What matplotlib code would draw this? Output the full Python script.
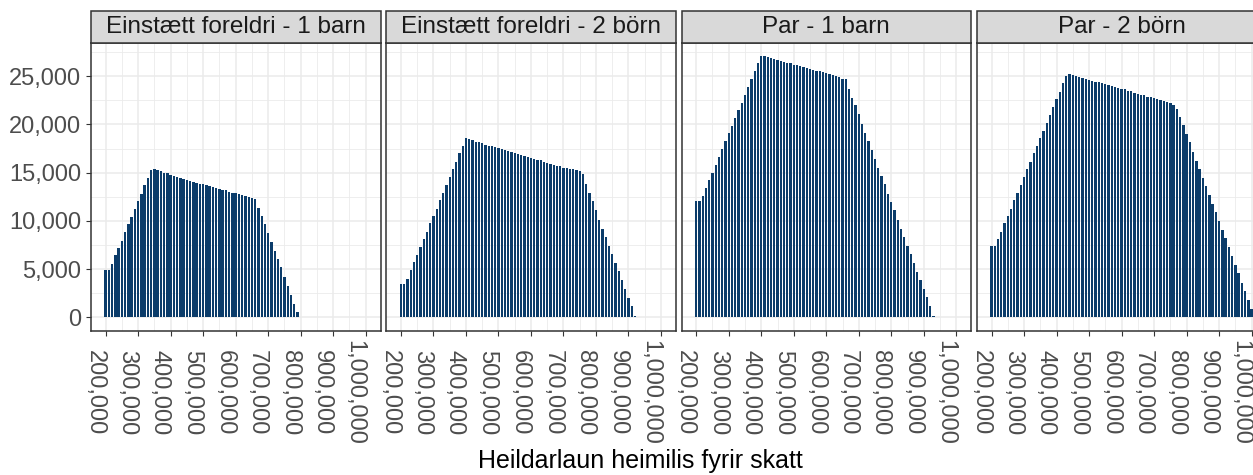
import numpy as np
import matplotlib
matplotlib.use("Agg")
import matplotlib.pyplot as plt
from matplotlib.patches import Rectangle
from matplotlib.ticker import FuncFormatter, MultipleLocator

plt.rcParams['font.family'] = ['Liberation Sans', 'DejaVu Sans']

panel_titles = ["Einstætt foreldri - 1 barn", "Einstætt foreldri - 2 börn",
                "Par - 1 barn", "Par - 2 börn"]

income_start = 200000
income_step = 10000

einstaett_1 = [4880, 4880, 5510, 6420, 7150, 7950, 8830, 9620, 10360, 11270, 12030, 12800, 13700, 14480, 15240,
               15340, 15240, 15140, 15000, 14930, 14790, 14650, 14580, 14470, 14370, 14230, 14160, 14060, 13950,
               13850, 13810, 13710, 13600, 13530, 13430, 13320, 13250, 13150, 13010, 12900, 12870, 12760, 12660,
               12560, 12490, 12380, 12280,
               11340, 10470, 9700, 8720, 7780, 6900, 6000, 5160, 4180, 3240, 2330, 1390, 520]

einstaett_2 = [3490, 3490, 3970, 4880, 5690, 6420, 7290, 8100, 8830, 9770, 10530, 11270, 12180, 12910, 13670,
               14540, 15350, 16080, 16990, 17780,
               18550, 18480, 18380, 18200, 18140, 18030, 17890, 17790, 17750, 17650, 17540, 17440, 17370, 17260,
               17120, 17020, 16980, 16840, 16740, 16630, 16500, 16390, 16320, 16290, 16150, 16040, 15900, 15800,
               15730, 15690, 15520, 15450, 15420, 15350, 15280, 15140, 14820,
               13780, 12900, 12030, 11090, 10120, 9170, 8300, 7400, 6560, 5650, 4780, 3840, 2900, 2030, 1120, 110]

par_1 = [12030, 12030, 12560, 13430, 14190, 15000, 15830, 16630, 17440, 18270, 19080, 19810, 20710, 21480,
         22250, 23090, 23890, 24690, 25530, 26330,
         27100, 27060, 26960, 26850, 26750, 26710, 26610, 26500, 26400, 26330, 26220, 26150, 26050, 25940,
         25880, 25770, 25670, 25560, 25530, 25420, 25320, 25210, 25110, 25040, 24930, 24760, 24690,
         23710, 22770, 21970, 21060, 20020, 19080, 18240, 17370, 16460, 15520, 14650, 13780, 12830, 11960,
         11090, 10120, 9170, 8300, 7430, 6520, 5650, 4710, 3840, 2970, 2100, 1150, 110]

par_2 = [7400, 7400, 8090, 8830, 9730, 10460, 11270, 12140, 12900, 13710, 14580, 15350, 16110, 17020, 17790,
         18550, 19350, 20190, 20990, 21800, 22600, 23360, 24310, 25040,
         25280, 25180, 25040, 24970, 24860, 24760, 24620, 24480, 24410, 24410, 24270, 24170, 24060, 23960,
         23890, 23780, 23710, 23640, 23500, 23430, 23290, 23190, 23090, 23020, 22880, 22810, 22740, 22600,
         22530, 22460, 22320, 22210, 22040,
         21620, 20820, 19950, 19010, 18140, 17160, 16220, 15350, 14470, 13600, 12730, 11750, 10880, 9940,
         9070, 8200, 7330, 6350, 5410, 4540, 3600, 2720, 1750, 880]

series = [einstaett_1, einstaett_2, par_1, par_2]

x_ticks = [200000, 300000, 400000, 500000, 600000, 700000, 800000, 900000, 1000000]
y_ticks = [0, 5000, 10000, 15000, 20000, 25000]

W, H = 1253, 475
fig = plt.figure(figsize=(W / 100, H / 100), dpi=100)

bar_color = "#0b3c6a"
grid_col = "#ebebeb"
border_col = "#333333"
fs_tick = 17
fs_strip = 17.5
fs_title = 18

panel_left0 = 91
panel_step = 295.3
panel_w = 289.5
panel_top = 43.5
panel_bottom = 330.7
strip_h = 32.5

fmt = FuncFormatter(lambda v, p: f"{int(round(v)):,}")

for i, (title, vals) in enumerate(zip(panel_titles, series)):
    left = panel_left0 + i * panel_step
    ax = fig.add_axes([left / W, (H - panel_bottom) / H, panel_w / W, (panel_bottom - panel_top) / H])
    xs = income_start + income_step * np.arange(len(vals))
    ax.bar(xs, vals, width=7200, color=bar_color, linewidth=0, zorder=3)
    ax.set_xlim(155000, 1045500)
    ax.set_ylim(-1400, 28400)
    ax.set_xticks(x_ticks)
    ax.set_yticks(y_ticks)
    ax.xaxis.set_minor_locator(MultipleLocator(50000))
    ax.yaxis.set_minor_locator(MultipleLocator(2500))
    ax.grid(which='major', color=grid_col, linewidth=1.1, zorder=0)
    ax.grid(which='minor', color=grid_col, linewidth=0.6, zorder=0)
    ax.set_axisbelow(True)
    ax.tick_params(which='minor', length=0)
    ax.tick_params(which='major', length=3.5, width=0.8, color=border_col, labelcolor="#4d4d4d",
                   labelsize=fs_tick)
    ax.xaxis.set_major_formatter(fmt)
    ax.yaxis.set_major_formatter(fmt)
    for lab in ax.get_xticklabels():
        lab.set_rotation(-90)
        lab.set_ha('right')
        lab.set_va('center')
    ax.tick_params(axis='x', pad=41)
    if i > 0:
        ax.tick_params(axis='y', left=False, labelleft=False)
    for sp in ax.spines.values():
        sp.set_color(border_col)
        sp.set_linewidth(1.1)
    rect = Rectangle((0, 1), 1, strip_h / (panel_bottom - panel_top), transform=ax.transAxes,
                     facecolor="#d9d9d9", edgecolor=border_col, linewidth=1.1, clip_on=False, zorder=5)
    ax.add_patch(rect)
    ax.text(0.5, 1 + 0.5 * strip_h / (panel_bottom - panel_top), title, transform=ax.transAxes,
            ha='center', va='center', fontsize=fs_strip, color="#1a1a1a", zorder=6)

fig.text(640 / W, (H - 461) / H, "Heildarlaun heimilis fyrir skatt", ha='center', va='center',
         fontsize=fs_title, color="black")

fig.savefig("out.png", dpi=100)
